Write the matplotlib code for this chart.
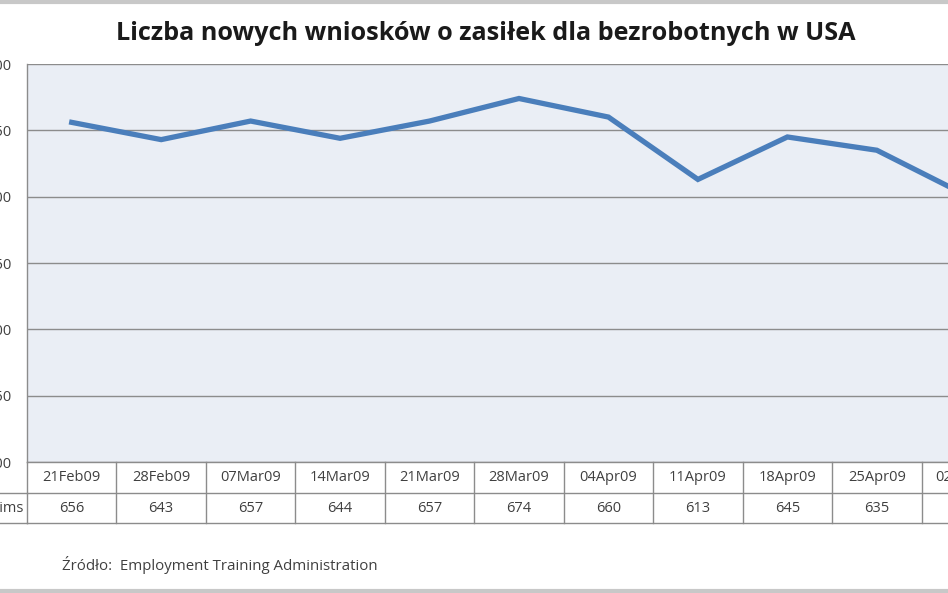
import matplotlib
matplotlib.use("Agg")
import matplotlib.pyplot as plt
from matplotlib.lines import Line2D
import matplotlib.transforms as mtransforms

dates = ["21Feb09", "28Feb09", "07Mar09", "14Mar09", "21Mar09", "28Mar09",
         "04Apr09", "11Apr09", "18Apr09", "25Apr09", "02May09"]
claims = [656, 643, 657, 644, 657, 674, 660, 613, 645, 635, 601]
yticks = [400, 450, 500, 550, 600, 650, 700]
title = "Liczba nowych wniosków o zasiłek dla bezrobotnych w USA"
row_label = "Initial Claims"
source = "Źródło:  Employment Training Administration"

W, H = 948, 593
fig = plt.figure(figsize=(W / 100, H / 100), dpi=100)
fig.patch.set_facecolor("white")

# plot area in pixel terms (extends past the right edge, as in the cropped reference)
left_px, right_px, top_px, bot_px = 27, 1011, 64, 462
ax = fig.add_axes([left_px / W, 1 - bot_px / H, (right_px - left_px) / W, (bot_px - top_px) / H])
ax.set_facecolor("#EAEEF5")

FS = 10.5
TC = "#404040"
x = list(range(len(dates)))
ax.plot(x, claims, color="#4A7EBB", linewidth=3.8, solid_joinstyle="miter", zorder=3)
ax.set_xlim(-0.5, len(dates) - 0.5)
ax.set_ylim(400, 700)
ax.set_yticks(yticks)
ax.set_yticklabels([str(v) for v in yticks], fontsize=FS, color=TC, family="Open Sans")
ax.tick_params(axis="y", length=0, pad=11)
ax.set_xticks([])
ax.grid(axis="y", color="#8C8C8C", linewidth=1.0, zorder=1)
for s in ["top", "right", "bottom"]:
    ax.spines[s].set_visible(False)
ax.spines["left"].set_color("#8C8C8C")
ax.spines["left"].set_linewidth(1.0)

# data table under the plot
ph = bot_px - top_px
r1 = -31 / ph
r2 = -61 / ph
tr = mtransforms.blended_transform_factory(ax.transData, ax.transAxes)
lc = "#8C8C8C"
ax.add_line(Line2D([-0.5, len(dates) - 0.5], [0, 0], transform=tr, color=lc, lw=1.0, clip_on=False))
for yy in (r1, r2):
    ax.add_line(Line2D([0, 1], [yy, yy], transform=ax.transAxes, color=lc, lw=1.0, clip_on=False))
    fig.add_artist(Line2D([0, left_px / W], [1 - (bot_px - yy * ph) / H] * 2,
                          transform=fig.transFigure, color=lc, lw=1.0))
for i in range(len(dates) + 1):
    ax.add_line(Line2D([i - 0.5, i - 0.5], [0, r2], transform=tr, color=lc, lw=1.0, clip_on=False))
for i, (d, v) in enumerate(zip(dates, claims)):
    ax.text(i, r1 / 2, d, transform=tr, ha="center", va="center", fontsize=FS,
            color=TC, family="Open Sans", clip_on=False)
    ax.text(i, (r1 + r2) / 2, str(v), transform=tr, ha="center", va="center", fontsize=FS,
            color=TC, family="Open Sans", clip_on=False)
fig.text(23 / W, 1 - ((bot_px - (r1 + r2) / 2 * ph)) / H, row_label, ha="right", va="center",
         fontsize=FS, color=TC, family="Open Sans")

fig.text(486 / W, 1 - 33 / H, title, ha="center", va="center", fontsize=18.2,
         fontweight="bold", color="#1A1A1A", family="Open Sans")
fig.text(62 / W, 1 - 565 / H, source, ha="left", va="center", fontsize=10.8,
         color=TC, family="Open Sans")

# outer grey frame lines (top and bottom of the crop)
fig.add_artist(Line2D([0, 1], [1 - 1.5 / H] * 2, transform=fig.transFigure, color="#C8C8C8", lw=3))
fig.add_artist(Line2D([0, 1], [2 / H] * 2, transform=fig.transFigure, color="#C8C8C8", lw=3))

fig.savefig("out.png", dpi=100, facecolor="white")
